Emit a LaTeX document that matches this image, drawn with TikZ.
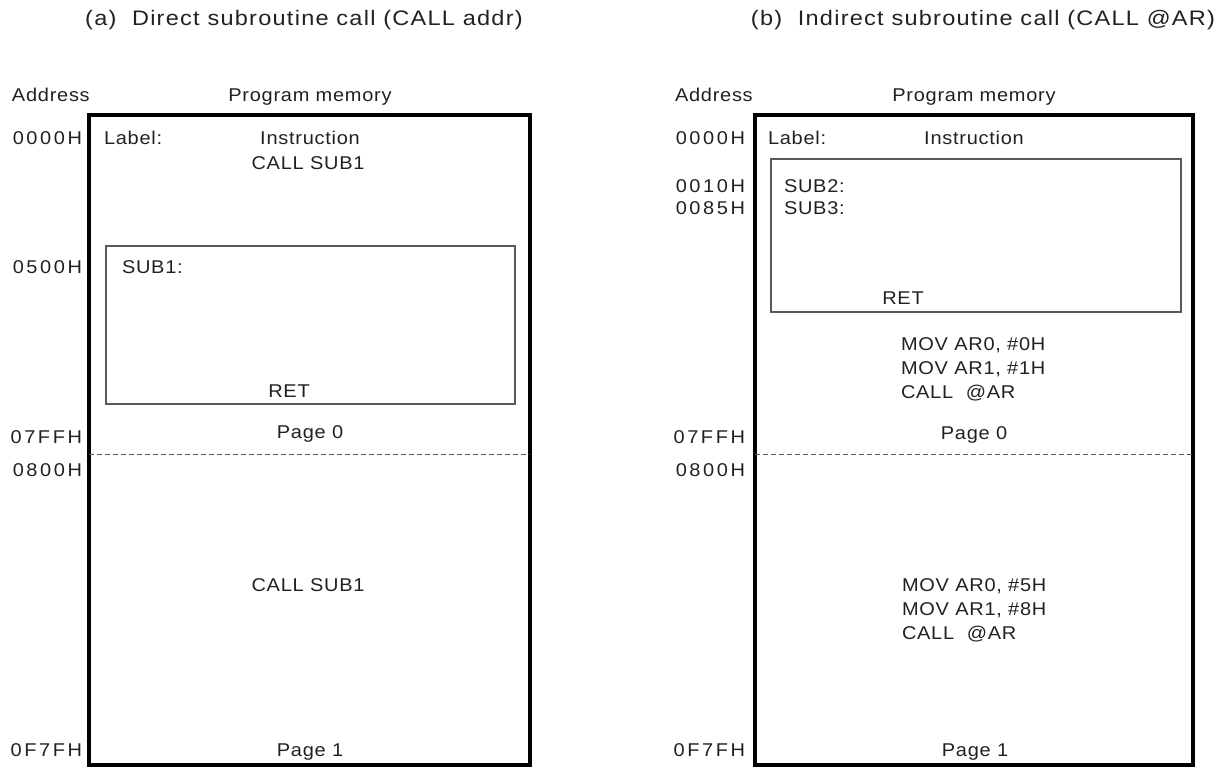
\documentclass[tikz,border=0pt]{standalone}
\usepackage{fontspec}
\setmainfont{Liberation Sans}
\newfontfamily\bodyfont[FakeStretch=1.08,LetterSpace=4]{Liberation Sans}
\newfontfamily\addrfont[FakeStretch=1.08,LetterSpace=14]{Liberation Sans}
\newfontfamily\titlefont[FakeStretch=1.12,LetterSpace=6]{Liberation Sans}
\definecolor{ink}{gray}{0.13}
\definecolor{thinline}{gray}{0.35}
\begin{document}
\begin{tikzpicture}[x=1pt,y=-1pt,
  txt/.style={inner sep=0pt,outer sep=0pt,anchor=base,text=ink,font=\bodyfont\fontsize{18.5}{22}\selectfont},
  txtl/.style={txt,anchor=base west},
  addr/.style={inner sep=0pt,outer sep=0pt,anchor=base east,text=ink,font=\addrfont\fontsize{18.5}{22}\selectfont},
  ttl/.style={inner sep=0pt,outer sep=0pt,anchor=base,text=ink,font=\titlefont\fontsize{21}{25}\selectfont},
  membox/.style={draw=black,line width=3.5pt,inner sep=0pt,outer sep=0pt,anchor=north west},
  subbox/.style={draw=thinline,line width=1.2pt,inner sep=0pt,outer sep=0pt,anchor=north west},
  pageline/.style={draw=thinline,line width=1pt,dash pattern=on 5pt off 3pt}]
\useasboundingbox (0,0) rectangle (1223,769);

% ---------- (a) ----------
\node[ttl] (titleA) at (304,25.5) {(a)\ \ Direct subroutine call (CALL addr)};
\node[txtl] (addrA) at (12,101.5) {Address};
\node[txt] (pmA) at (310,101.5) {Program memory};
\node[membox,minimum width=441pt,minimum height=650pt] (memA) at (89,115) {};
\node[subbox,minimum width=409pt,minimum height=158pt] (subA) at (106,246) {};
\coordinate (pgA1) at (89,454);
\coordinate (pgA2) at (530,454);
\draw[pageline] (pgA1) -- (pgA2);

\node[addr] (a0000) at (82,144.5) {0000H};
\node[txtl] (labA) at (104,144.5) {Label:};
\node[txt] (insA) at (310,144.5) {Instruction};
\node[txt] (callA1) at (308,169.5) {CALL SUB1};
\node[addr] (a0500) at (82,273.5) {0500H};
\node[txtl] (sub1) at (122,273.5) {SUB1:};
\node[txt] (retA) at (289,397.5) {RET};
\node[txt] (pg0A) at (310,438.5) {Page 0};
\node[addr] (a07ff) at (82,443) {07FFH};
\node[addr] (a0800) at (82,476.5) {0800H};
\node[txt] (callA2) at (308,591.5) {CALL SUB1};
\node[addr] (a0f7f) at (82,756.5) {0F7FH};
\node[txt] (pg1A) at (310,756.5) {Page 1};

% ---------- (b) ----------
\node[ttl] (titleB) at (983,25.5) {(b)\ \ Indirect subroutine call (CALL @AR)};
\node[txtl] (addrB) at (675,101.5) {Address};
\node[txt] (pmB) at (974,101.5) {Program memory};
\node[membox,minimum width=438pt,minimum height=650pt] (memB) at (755,115) {};
\node[subbox,minimum width=410pt,minimum height=153pt] (subB) at (771,159) {};
\coordinate (pgB1) at (755,454);
\coordinate (pgB2) at (1193,454);
\draw[pageline] (pgB1) -- (pgB2);

\node[addr] (b0000) at (745,144.5) {0000H};
\node[txtl] (labB) at (768,144.5) {Label:};
\node[txt] (insB) at (974,144.5) {Instruction};
\node[addr] (b0010) at (745,192.5) {0010H};
\node[txtl] (sub2) at (784,192.5) {SUB2:};
\node[addr] (b0085) at (745,214.5) {0085H};
\node[txtl] (sub3) at (784,214.5) {SUB3:};
\node[txt] (retB) at (903,304.5) {RET};
\node[txtl] (movB1) at (901,350.5) {MOV AR0, \#0H};
\node[txtl] (movB2) at (901,374.5) {MOV AR1, \#1H};
\node[txtl] (callB1) at (901,398.5) {CALL\ \ @AR};
\node[txt] (pg0B) at (974,439.5) {Page 0};
\node[addr] (b07ff) at (745,443) {07FFH};
\node[addr] (b0800) at (745,476.5) {0800H};
\node[txtl] (movB3) at (902,591.5) {MOV AR0, \#5H};
\node[txtl] (movB4) at (902,615.5) {MOV AR1, \#8H};
\node[txtl] (callB2) at (902,639.5) {CALL\ \ @AR};
\node[addr] (b0f7f) at (745,756.5) {0F7FH};
\node[txt] (pg1B) at (975,756.5) {Page 1};
\end{tikzpicture}
\end{document}
